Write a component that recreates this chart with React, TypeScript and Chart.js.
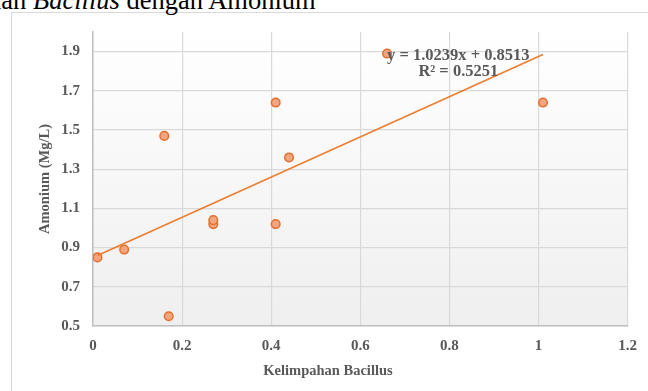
import React, { useEffect, useRef } from "react";
import { Chart, registerables } from "chart.js";
Chart.register(...registerables);

const bacillus = [0.01, 0.07, 0.16, 0.17, 0.27, 0.27, 0.41, 0.41, 0.44, 0.66, 1.01];
const amonium = [0.85, 0.89, 1.47, 0.55, 1.02, 1.04, 1.64, 1.02, 1.36, 1.89, 1.64];
const trendX = [0.01, 1.01];
const trendY = [0.86, 1.885];
const xTicks = [0, 0.2, 0.4, 0.6, 0.8, 1, 1.2];
const yTicks = [0.5, 0.7, 0.9, 1.1, 1.3, 1.5, 1.7, 1.9];
const xTitle = "Kelimpahan Bacillus";
const yTitle = "Amonium (Mg/L)";
const equation = "y = 1.0239x + 0.8513";
const rSquared = "R² = 0.5251";

const SERIF = "'Liberation Serif', 'Times New Roman', serif";
const GREY = "#595959";

const decorPlugin = {
  id: "decor",
  beforeDraw(chart: any) {
    const { ctx, chartArea: a } = chart;
    const g = ctx.createLinearGradient(0, a.top, 0, a.bottom);
    g.addColorStop(0, "#ffffff");
    g.addColorStop(1, "#efefef");
    ctx.save();
    ctx.fillStyle = g;
    ctx.fillRect(a.left, a.top, a.right - a.left, a.bottom - a.top);
    ctx.restore();
  },
  afterDatasetsDraw(chart: any) {
    const { ctx } = chart;
    const xs = chart.scales.x;
    const ys = chart.scales.y;
    ctx.save();
    ctx.fillStyle = GREY;
    ctx.font = `bold 16.5px ${SERIF}`;
    ctx.textAlign = "center";
    ctx.textBaseline = "middle";
    const cx = xs.getPixelForValue(0.82);
    ctx.fillText(equation, cx, ys.getPixelForValue(1.88));
    ctx.fillText(rSquared, cx, ys.getPixelForValue(1.795));
    ctx.restore();
  },
  afterDraw(chart: any) {
    const { ctx } = chart;
    ctx.save();
    ctx.fillStyle = GREY;
    ctx.font = `bold 14.5px ${SERIF}`;
    ctx.textAlign = "center";
    ctx.textBaseline = "middle";
    ctx.fillText(xTitle, 328, 371);
    ctx.translate(45, 179);
    ctx.rotate(-Math.PI / 2);
    ctx.fillText(yTitle, 0, 0);
    ctx.restore();
  },
};

export default function App() {
  const ref = useRef<HTMLCanvasElement>(null);
  useEffect(() => {
    if (!ref.current) return;
    const tickFont = { family: SERIF, size: 15, weight: "bold" as const };
    const chart = new Chart(ref.current, {
      type: "scatter",
      data: {
        datasets: [
          {
            label: "data",
            data: bacillus.map((x, i) => ({ x, y: amonium[i] })),
            backgroundColor: "#F4A47E",
            borderColor: "#E2702F",
            borderWidth: 1.5,
            pointRadius: 4.3,
            order: 2,
          },
          {
            type: "line",
            label: "trend",
            data: trendX.map((x, i) => ({ x, y: trendY[i] })),
            borderColor: "#ED7D31",
            borderWidth: 1.6,
            pointRadius: 0,
            fill: false,
            order: 1,
          } as any,
        ],
      },
      options: {
        animation: false,
        responsive: false,
        layout: { padding: { top: 32, right: 18, left: 0, bottom: 0 } },
        plugins: { legend: { display: false }, tooltip: { enabled: false }, title: { display: false } },
        scales: {
          x: {
            type: "linear",
            min: 0,
            max: 1.2,
            afterBuildTicks: (s: any) => {
              s.ticks = xTicks.map((v) => ({ value: v }));
            },
            afterFit: (s: any) => {
              s.height = 65;
            },
            ticks: {
              font: tickFont,
              color: GREY,
              padding: 11,
              maxRotation: 0,
              callback: (v: any) => String(Math.round(Number(v) * 10) / 10),
            },
            grid: { color: "#d9d9d9", lineWidth: 1.2, drawTicks: false },
            border: { color: "#bfbfbf", width: 1.5 },
          },
          y: {
            type: "linear",
            min: 0.5,
            max: 2.0,
            afterBuildTicks: (s: any) => {
              s.ticks = yTicks.map((v) => ({ value: v }));
            },
            afterFit: (s: any) => {
              s.width = 93;
            },
            ticks: {
              font: tickFont,
              color: GREY,
              padding: 13,
              callback: (v: any) => Number(v).toFixed(1),
            },
            grid: { color: "#d9d9d9", lineWidth: 1.2, drawTicks: false },
            border: { color: "#bfbfbf", width: 1.5 },
          },
        },
      },
      plugins: [decorPlugin],
    });
    return () => chart.destroy();
  }, []);

  const titleStyle: React.CSSProperties = {
    position: "absolute",
    top: -12.7,
    fontFamily: SERIF,
    fontSize: 26.5,
    lineHeight: "26.5px",
    whiteSpace: "nowrap",
    color: "#000",
  };

  return (
    <div
      style={{
        position: "fixed",
        left: 0,
        top: 0,
        width: 648,
        height: 391,
        overflow: "hidden",
        background: "#ffffff",
      }}
    >
      <div
        style={{
          position: "absolute",
          left: 11,
          top: 12,
          width: 800,
          height: 500,
          borderLeft: "1.5px solid #d9d9d9",
          borderTop: "1.5px solid #d9d9d9",
        }}
      />
      <span style={{ ...titleStyle, right: 648 - 33 }}>Kelimpahan&nbsp;</span>
      <span style={{ ...titleStyle, left: 33 }}>
        <i>Bacillus</i> dengan Amonium
      </span>
      <canvas
        ref={ref}
        width={648}
        height={391}
        style={{ position: "absolute", left: 0, top: 0, width: 648, height: 391 }}
      />
    </div>
  );
}
